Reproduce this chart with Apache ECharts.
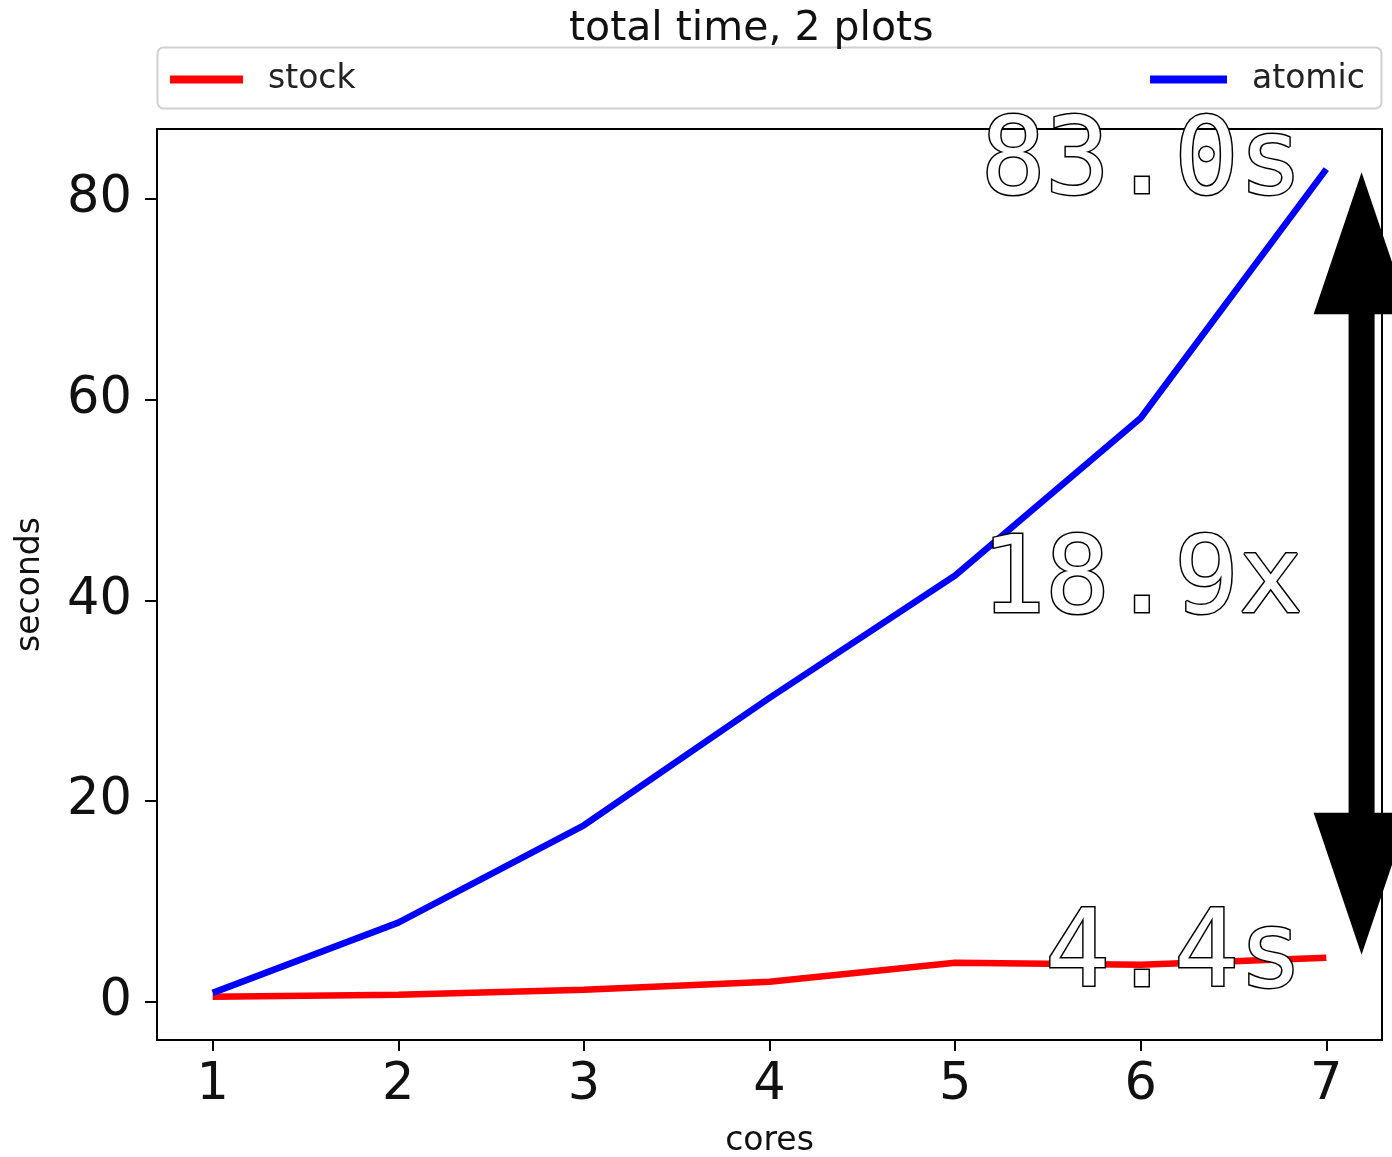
<!DOCTYPE html>
<html>
<head>
<meta charset="utf-8">
<script src="https://cdn.jsdelivr.net/npm/echarts@6/dist/echarts.min.js"></script>
<style>
html,body{margin:0;padding:0;background:#fff;}
#main{width:1392px;height:1157px;}
</style>
</head>
<body>
<div id="main"></div>
<script>
const cores = [1, 2, 3, 4, 5, 6, 7];
const stock = [0.5, 0.7, 1.2, 2.0, 3.9, 3.7, 4.4];
const atomic = [0.9, 7.9, 17.6, 30.3, 42.5, 58.2, 83.0];
const yTicks = [0, 20, 40, 60, 80];
const xTicks = [1, 2, 3, 4, 5, 6, 7];
const seriesNames = ['stock', 'atomic'];
const annoTexts = ['83.0s', '18.9x', '4.4s'];
const annoValues = [83.0, 43.7, 4.4];

const chart = echarts.init(document.getElementById('main'), null, {renderer: 'canvas'});
const tickFont = {fontFamily: 'DejaVu Sans', fontSize: 51, color: '#111'};

chart.setOption({
  animation: false,
  backgroundColor: '#fff',
  title: {
    text: 'total time, 2 plots', left: 564, top: 4,
    textStyle: {fontFamily: 'DejaVu Sans', fontSize: 41, fontWeight: 'normal', color: '#111'}
  },
  legend: [
    {data: [seriesNames[0]], left: 165, top: 58, icon: 'rect', itemWidth: 73, itemHeight: 8, z: 5,
     textStyle: {fontFamily: 'DejaVu Sans', fontSize: 33, color: '#222', padding: [0, 0, 0, 20]}},
    {data: [seriesNames[1]], left: 1145, top: 58, icon: 'rect', itemWidth: 77, itemHeight: 8, z: 5,
     textStyle: {fontFamily: 'DejaVu Sans', fontSize: 33, color: '#222', padding: [0, 0, 0, 20]}}
  ],
  grid: {left: 157, right: 10, top: 129, bottom: 117, containLabel: false, outerBoundsMode: 'none',
         show: true, borderColor: '#000', borderWidth: 2, backgroundColor: 'transparent'},
  xAxis: {
    type: 'value', min: 0.7, max: 7.3,
    name: 'cores', nameLocation: 'middle', nameGap: 85,
    nameTextStyle: {fontFamily: 'DejaVu Sans', fontSize: 33, color: '#111'},
    axisLine: {show: true, onZero: false, lineStyle: {color: '#000', width: 2}},
    axisTick: {show: true, customValues: xTicks, length: 11, lineStyle: {color: '#000', width: 2}},
    axisLabel: Object.assign({customValues: xTicks, margin: 20}, tickFont),
    splitLine: {show: false}
  },
  yAxis: {
    type: 'value', min: -3.8, max: 87,
    name: 'seconds', nameLocation: 'middle', nameGap: 110, nameRotate: 90,
    nameTextStyle: {fontFamily: 'DejaVu Sans', fontSize: 33, color: '#111'},
    axisLine: {show: true, onZero: false, lineStyle: {color: '#000', width: 2}},
    axisTick: {show: true, customValues: yTicks, length: 12, lineStyle: {color: '#000', width: 2}},
    axisLabel: Object.assign({customValues: yTicks, margin: 25}, tickFont),
    splitLine: {show: false}
  },
  series: [
    {name: seriesNames[0], type: 'line', data: cores.map((c, i) => [c, stock[i]]),
     showSymbol: false, symbol: 'none', color: '#ff0000', lineStyle: {color: '#ff0000', width: 6.5}, z: 3},
    {name: seriesNames[1], type: 'line', data: cores.map((c, i) => [c, atomic[i]]),
     showSymbol: false, symbol: 'none', color: '#0000ff', lineStyle: {color: '#0000ff', width: 6.5}, z: 3}
  ]
});

function draw() {
  const arrowX = 7.19;
  const top = chart.convertToPixel({gridIndex: 0}, [arrowX, annoValues[0]]);
  const bot = chart.convertToPixel({gridIndex: 0}, [arrowX, annoValues[2]]);
  const ax = top[0];
  const t = top[1] + 3, b = bot[1] - 3;
  const hw = 48, hl = 142, sw = 13;
  const arrowPts = [
    [ax, t], [ax + hw, t + hl], [ax + sw, t + hl], [ax + sw, b - hl], [ax + hw, b - hl],
    [ax, b], [ax - hw, b - hl], [ax - sw, b - hl], [ax - sw, t + hl], [ax - hw, t + hl]
  ];
  const offsets = [-57, -33, -53];
  const textEls = annoTexts.map((txt, i) => {
    const p = chart.convertToPixel({gridIndex: 0}, [7, annoValues[i]]);
    return {
      type: 'text', z: 20, x: 1303, y: p[1] + offsets[i],
      style: {text: txt, fontFamily: 'DejaVu Sans Mono', fontSize: 107, fill: '#fff',
              stroke: '#000', lineWidth: 3, strokeFirst: true, align: 'right', verticalAlign: 'top'}
    };
  });
  chart.setOption({
    graphic: [
      {type: 'rect', z: 1, shape: {x: 157.5, y: 47.5, width: 1224, height: 61, r: 6},
       style: {fill: '#fff', stroke: '#d0d0d0', lineWidth: 2}},
      {type: 'polygon', z: 15, shape: {points: arrowPts}, style: {fill: '#000'}}
    ].concat(textEls)
  });
}
draw();
</script>
</body>
</html>
